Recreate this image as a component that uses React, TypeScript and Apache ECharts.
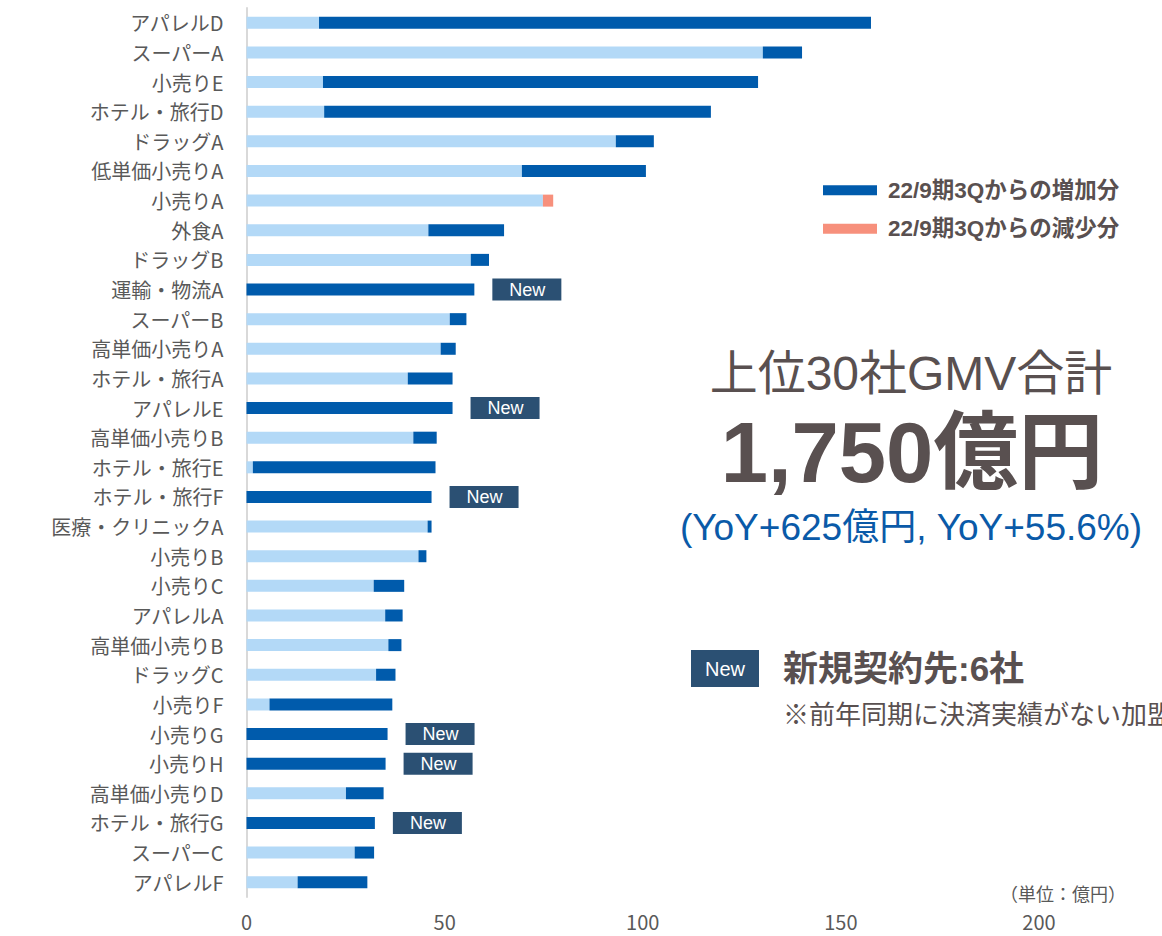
import React, { useEffect, useRef } from "react";
import * as echarts from "echarts";

const categories = [
  "アパレルD", "スーパーA", "小売りE", "ホテル・旅行D", "ドラッグA", "低単価小売りA", "小売りA", "外食A", "ドラッグB", "運輸・物流A",
  "スーパーB", "高単価小売りA", "ホテル・旅行A", "アパレルE", "高単価小売りB", "ホテル・旅行E", "ホテル・旅行F", "医療・クリニックA", "小売りB", "小売りC",
  "アパレルA", "高単価小売りB", "ドラッグC", "小売りF", "小売りG", "小売りH", "高単価小売りD", "ホテル・旅行G", "スーパーC", "アパレルF",
];
// base (light blue) values
const baseValues = [
  18.3, 130.3, 19.3, 19.6, 93.2, 69.5, 74.8, 45.9, 56.6, 0,
  51.3, 49.0, 40.7, 0, 42.1, 1.6, 0, 45.7, 43.4, 32.1,
  35.0, 35.8, 32.7, 5.8, 0, 0, 25.1, 0, 27.3, 12.9,
];
// increase since 22/9 3Q (dark blue)
const increaseValues = [
  139.3, 9.9, 109.8, 97.6, 9.6, 31.3, 0, 19.1, 4.6, 57.5,
  4.2, 3.8, 11.3, 52.0, 5.9, 46.1, 46.7, 1.0, 2.0, 7.7,
  4.4, 3.3, 4.9, 31.0, 35.6, 35.1, 9.5, 32.4, 4.9, 17.6,
];
// decrease since 22/9 3Q (salmon)
const decreaseValues = [
  0, 0, 0, 0, 0, 0, 2.6, 0, 0, 0,
  0, 0, 0, 0, 0, 0, 0, 0, 0, 0,
  0, 0, 0, 0, 0, 0, 0, 0, 0, 0,
];
// new contracts flag
const isNew = [
  false, false, false, false, false, false, false, false, false, true,
  false, false, false, true, false, false, true, false, false, false,
  false, false, false, false, true, true, false, true, false, false,
];
const xTicks = [0, 50, 100, 150, 200];
const seriesNames = ["前年値", "22/9期3Qからの増加分", "22/9期3Qからの減少分"];

const CJK = "'Noto Sans CJK JP', sans-serif";
const ARIAL = "'Liberation Sans', 'Noto Sans CJK JP', sans-serif";
const TEXT_DARK = "#595050";
const BADGE = "#2b5073";

export default function App() {
  const ref = useRef<HTMLDivElement>(null);

  useEffect(() => {
    if (!ref.current) return;
    const chart = echarts.init(ref.current, undefined, { renderer: "svg" });

    const newLabel = {
      show: true,
      position: "right",
      distance: 18,
      formatter: "New",
      color: "#ffffff",
      backgroundColor: BADGE,
      padding: [2, 16, 2, 17],
      fontSize: 18,
      lineHeight: 18,
      fontFamily: ARIAL,
    };

    const option = {
      animation: false,
      backgroundColor: "#ffffff",
      grid: { left: 246.5, right: 123, top: 8, bottom: 39, containLabel: false },
      legend: {
        data: [seriesNames[1], seriesNames[2]],
        orient: "vertical",
        left: 818,
        top: 174,
        icon: "rect",
        itemWidth: 54,
        itemHeight: 10,
        itemGap: 16,
        textStyle: {
          fontSize: 22.5,
          fontWeight: "bold",
          color: TEXT_DARK,
          fontFamily: ARIAL,
          padding: [0, 0, 0, 6],
        },
      },
      xAxis: {
        type: "value",
        min: xTicks[0],
        max: xTicks[xTicks.length - 1],
        interval: 50,
        axisLine: { show: false },
        axisTick: { show: false },
        splitLine: { show: false },
        axisLabel: {
          margin: 14,
          fontSize: 20,
          color: "#595959",
          fontFamily: CJK,
        },
      },
      yAxis: {
        type: "category",
        inverse: true,
        data: categories,
        axisLine: { show: true, lineStyle: { color: "#d9d9d9", width: 2 } },
        axisTick: { show: false },
        axisLabel: {
          interval: 0,
          margin: 23,
          fontSize: 20,
          lineHeight: 22,
          color: "#595959",
          fontFamily: CJK,
        },
      },
      series: [
        {
          name: seriesNames[0],
          type: "bar",
          stack: "total",
          barWidth: 12,
          itemStyle: { color: "#b3d9f7" },
          data: baseValues,
        },
        {
          name: seriesNames[1],
          type: "bar",
          stack: "total",
          barWidth: 12,
          itemStyle: { color: "#005bac" },
          data: increaseValues.map((v, i) =>
            isNew[i] ? { value: v, label: newLabel } : v
          ),
        },
        {
          name: seriesNames[2],
          type: "bar",
          stack: "total",
          barWidth: 12,
          itemStyle: { color: "#f7907c" },
          data: decreaseValues,
        },
      ],
      graphic: [
        {
          type: "text",
          x: 911,
          y: 373,
          style: {
            text: "上位30社GMV合計",
            fill: TEXT_DARK,
            fontSize: 48,
            fontFamily: ARIAL,
            align: "center",
            verticalAlign: "middle",
          },
        },
        {
          type: "text",
          x: 912,
          y: 452,
          style: {
            text: "1,750億円",
            fill: TEXT_DARK,
            fontSize: 85,
            fontWeight: "bold",
            fontFamily: ARIAL,
            align: "center",
            verticalAlign: "middle",
          },
        },
        {
          type: "text",
          x: 911,
          y: 527,
          style: {
            text: "(YoY+625億円, YoY+55.6%)",
            fill: "#0a5aa8",
            fontSize: 37,
            fontFamily: ARIAL,
            align: "center",
            verticalAlign: "middle",
          },
        },
        {
          type: "rect",
          shape: { x: 691, y: 650, width: 68, height: 37 },
          style: { fill: BADGE },
        },
        {
          type: "text",
          x: 725,
          y: 669,
          style: {
            text: "New",
            fill: "#ffffff",
            fontSize: 20,
            fontFamily: ARIAL,
            align: "center",
            verticalAlign: "middle",
          },
        },
        {
          type: "text",
          x: 783,
          y: 668,
          style: {
            text: "新規契約先:6社",
            fill: TEXT_DARK,
            fontSize: 35,
            fontWeight: "bold",
            fontFamily: ARIAL,
            align: "left",
            verticalAlign: "middle",
          },
        },
        {
          type: "text",
          x: 783,
          y: 712,
          style: {
            text: "※前年同期に決済実績がない加盟店",
            fill: TEXT_DARK,
            fontSize: 26,
            fontFamily: CJK,
            align: "left",
            verticalAlign: "middle",
          },
        },
        {
          type: "text",
          x: 1000,
          y: 893,
          style: {
            text: "（単位：億円）",
            fill: "#595959",
            fontSize: 18,
            fontFamily: CJK,
            align: "left",
            verticalAlign: "middle",
          },
        },
      ],
    };

    chart.setOption(option as any);
    return () => chart.dispose();
  }, []);

  return (
    <div
      ref={ref}
      style={{ position: "fixed", left: 0, top: 0, width: 1162, height: 936, background: "#fff" }}
    />
  );
}
